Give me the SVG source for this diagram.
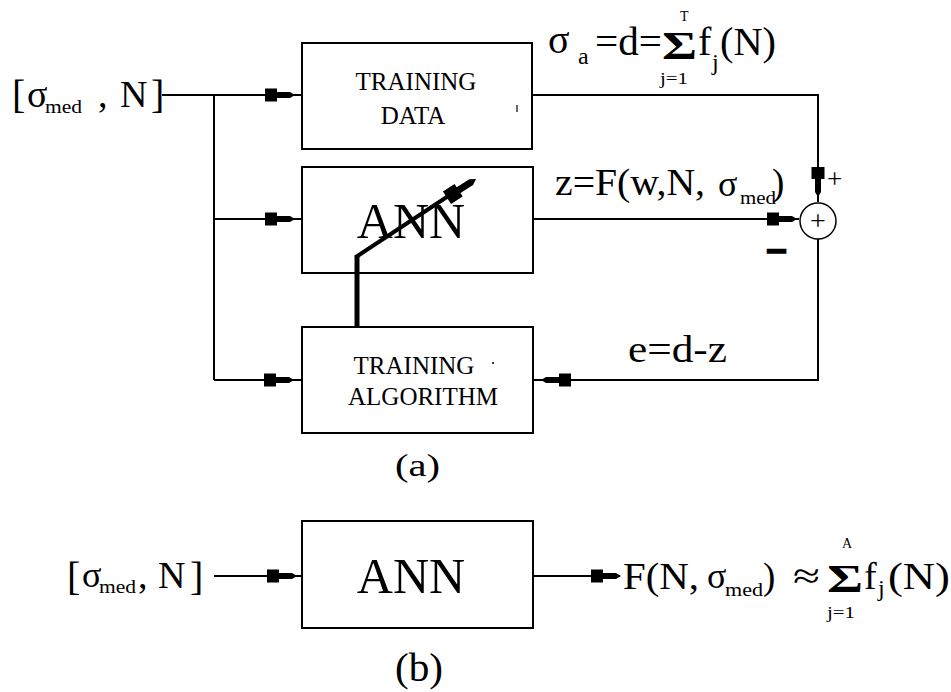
<svg xmlns="http://www.w3.org/2000/svg" width="951" height="692" viewBox="0 0 951 692">
<style>
.box{fill:#fff;stroke:#000;stroke-width:2}
.ln{fill:none;stroke:#000;stroke-width:2}
text{font-family:"Liberation Serif","Tinos","Times New Roman","DejaVu Serif",serif;fill:#000}
.s{font-size:25px;text-anchor:middle}
.big{font-size:50px;text-anchor:middle}
.sig{font-weight:bold}
</style>
<defs>
<path id="ah" d="M-30,-6.5 H-18 V-3 H-5 L0,0 L-5,3 H-18 V6.5 H-30 Z" fill="#000"/>
</defs>
<rect width="951" height="692" fill="#fff"/>

<g id="input-a">
<text x="12" y="108" font-size="40">[</text>
<text x="27" y="107" font-size="38">σ</text>
<text x="45" y="113" font-size="18" textLength="37" lengthAdjust="spacingAndGlyphs">med</text>
<text x="98" y="107" font-size="38">,</text>
<text x="120" y="107" font-size="38">N</text>
<text x="151" y="108" font-size="40">]</text>
</g>

<g id="training-data">
<rect class="box" x="302" y="43" width="230" height="106"/>
<text class="s" x="416" y="90">TRAINING</text>
<text class="s" x="413" y="124">DATA</text>
<line x1="517" y1="105" x2="517" y2="112" stroke="#000" stroke-width="1.2"/>
</g>

<g id="ann-a">
<rect class="box" x="302" y="167" width="231" height="106"/>
<text class="big" x="411" y="238">ANN</text>
</g>

<g id="training-algorithm">
<rect class="box" x="302" y="327" width="231" height="106"/>
<text class="s" x="414" y="374">TRAINING</text>
<text class="s" x="423" y="405">ALGORITHM</text>
<circle cx="493" cy="363" r="1" fill="#000"/>
</g>

<g id="ann-b">
<rect class="box" x="302" y="521" width="231" height="107"/>
<text class="big" x="411" y="593">ANN</text>
</g>

<g id="connectors">
<path class="ln" d="M162,95 H302 M214,95 V380 M214,219 H302 M214,380 H302"/>
<path class="ln" d="M532,95 H818 V202"/>
<path class="ln" d="M533,219 H799"/>
<path class="ln" d="M818,239 V380 H533"/>
<path class="ln" d="M214,576 H302 M533,576 H620"/>
<path fill="none" stroke="#000" stroke-width="5" d="M357,327 V255"/>
<path fill="none" stroke="#000" stroke-width="4" stroke-linejoin="round" d="M356,257 L462,187"/>
<use href="#ah" transform="translate(295,95)"/>
<use href="#ah" transform="translate(295,219)"/>
<use href="#ah" transform="translate(294,380)"/>
<use href="#ah" transform="translate(797,219)"/>
<use href="#ah" transform="translate(818,197) rotate(90)"/>
<use href="#ah" transform="translate(541,380) rotate(180)"/>
<use href="#ah" transform="translate(297,576)"/>
<use href="#ah" transform="translate(621,576)"/>
<use href="#ah" transform="translate(476,179) rotate(-32.8) scale(1.15)"/>
</g>

<g id="sum">
<circle cx="818" cy="221" r="18" fill="#fff" stroke="#000" stroke-width="1.5"/>
<text x="818" y="230" font-size="28" text-anchor="middle">+</text>
<text x="827" y="188" font-size="27">+</text>
<text x="766" y="263" font-size="36" font-weight="bold" stroke="#000" stroke-width="2.5" textLength="21" lengthAdjust="spacingAndGlyphs">−</text>
</g>

<g id="label-d">
<text x="548" y="53" font-size="40">σ</text>
<text x="578" y="64" font-size="24">a</text>
<text x="595" y="55" font-size="40" textLength="67" lengthAdjust="spacingAndGlyphs">=d=</text>
<text class="sig" x="662" y="59" font-size="40" textLength="35" lengthAdjust="spacingAndGlyphs">Σ</text>
<text x="680" y="21" font-size="14">T</text>
<text x="660" y="84" font-size="16" textLength="28" lengthAdjust="spacingAndGlyphs">j=1</text>
<text x="698" y="55" font-size="40">f</text>
<text x="712" y="70" font-size="24">j</text>
<text x="720" y="55" font-size="40" textLength="56" lengthAdjust="spacingAndGlyphs">(N)</text>
</g>

<g id="label-z">
<text x="555" y="195" font-size="37" textLength="150" lengthAdjust="spacingAndGlyphs">z=F(w,N,</text>
<text x="718" y="196" font-size="36">σ</text>
<text x="740" y="204" font-size="18" textLength="36" lengthAdjust="spacingAndGlyphs">med</text>
<text x="772" y="195" font-size="37">)</text>
</g>

<g id="label-e">
<text x="628" y="362" font-size="37" textLength="99" lengthAdjust="spacingAndGlyphs">e=d-z</text>
</g>

<text id="caption-a" x="395" y="476" font-size="32" textLength="45" lengthAdjust="spacingAndGlyphs">(a)</text>

<g id="input-b">
<text x="67" y="590" font-size="40">[</text>
<text x="82" y="587" font-size="36">σ</text>
<text x="99" y="593" font-size="18" textLength="37" lengthAdjust="spacingAndGlyphs">med</text>
<text x="138" y="588" font-size="38">,</text>
<text x="158" y="588" font-size="38">N</text>
<text x="190" y="590" font-size="40">]</text>
</g>

<g id="label-out">
<text x="623" y="589" font-size="37" textLength="76" lengthAdjust="spacingAndGlyphs">F(N,</text>
<text x="707" y="588" font-size="36">σ</text>
<text x="725" y="596" font-size="18" textLength="38" lengthAdjust="spacingAndGlyphs">med</text>
<text x="763" y="589" font-size="37">)</text>
<text x="793" y="588" font-size="36" textLength="27" lengthAdjust="spacingAndGlyphs">≈</text>
<text class="sig" x="827" y="592" font-size="40" textLength="36" lengthAdjust="spacingAndGlyphs">Σ</text>
<text x="847" y="548" font-size="14" text-anchor="middle">A</text>
<text x="827" y="618" font-size="16" textLength="28" lengthAdjust="spacingAndGlyphs">j=1</text>
<text x="864" y="589" font-size="38">f</text>
<text x="878" y="596" font-size="24">j</text>
<text x="888" y="589" font-size="38" textLength="62" lengthAdjust="spacingAndGlyphs">(N)</text>
</g>

<text id="caption-b" x="395" y="681" font-size="40" textLength="48" lengthAdjust="spacingAndGlyphs">(b)</text>
</svg>
